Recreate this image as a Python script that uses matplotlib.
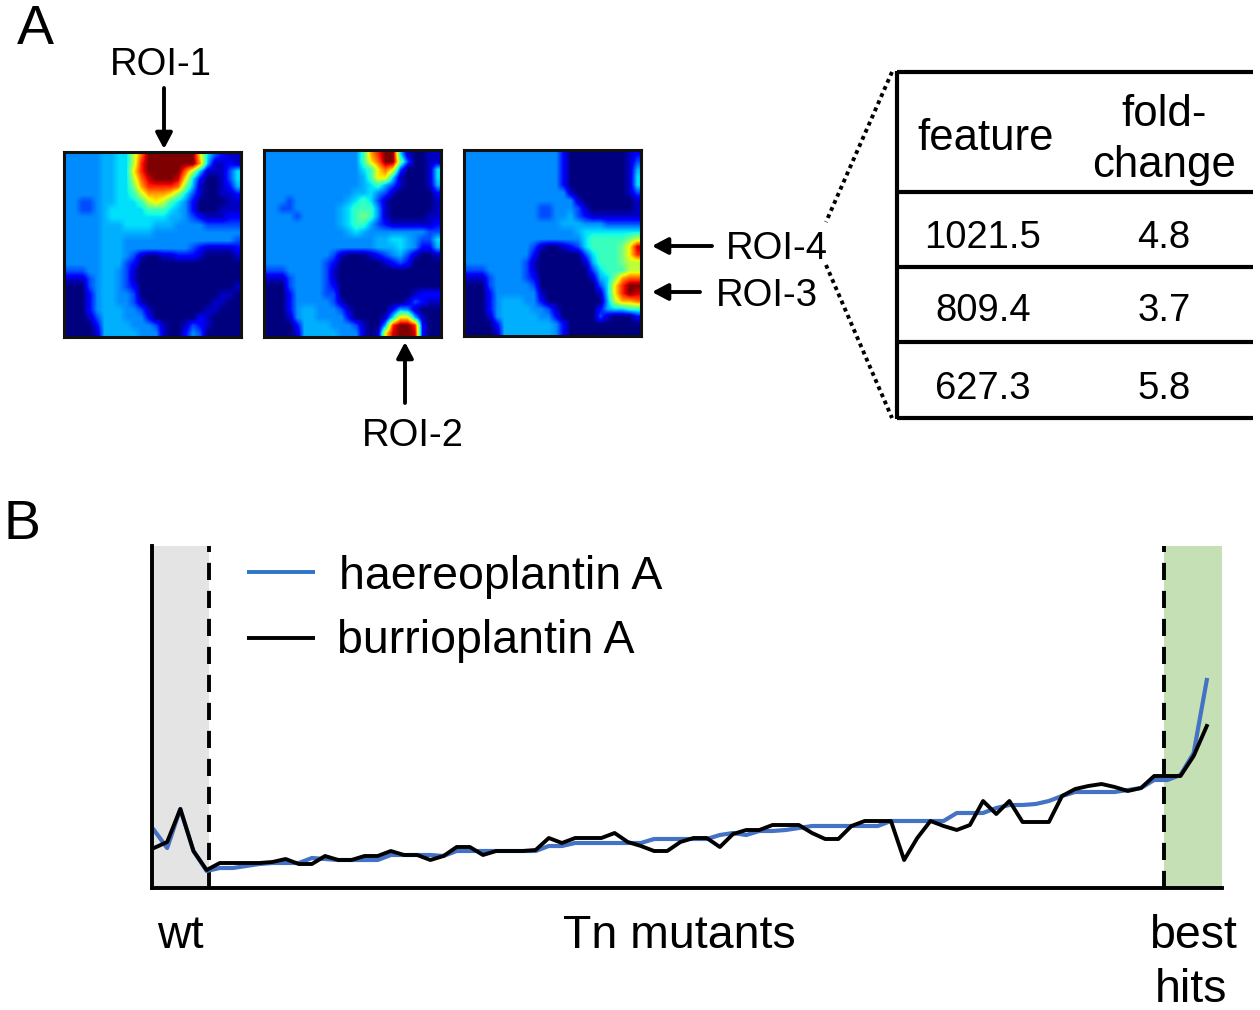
import matplotlib
matplotlib.use("Agg")
import matplotlib.pyplot as plt
import numpy as np

W, H = 1260, 1010

# heatmap levels, one hex digit per cell (0 = lowest, f = highest)
ROI_MAP_1 = [
	"4444455669cfffffffa63211",
	"4444455669dfffffffb51121",
	"444445566adfffffc9511136",
	"4444455669cefffea6200136",
	"4444455668bddddc85100125",
	"44444556679bbba863100112",
	"443345566679a97642000011",
	"443345666667776542000111",
	"444445666666665543211122",
	"444445556666555444433333",
	"444445555555444444444444",
	"444445554444444444444443",
	"444445554444444443211112",
	"444445554310011222100001",
	"444445553200000000000000",
	"333445543100000000000000",
	"111345543100000000000000",
	"000345543200000000000001",
	"000245544300000000000110",
	"000245544310000000001100",
	"000245554431000000011000",
	"000135554442000000210000",
	"000025555444310013210000",
	"000015555544410024300000",
]
ROI_MAP_2 = [
	"44444444444447bdff610011",
	"44444444444447acff830011",
	"444444444444467aca300016",
	"444444444444457aa6100016",
	"444444444444456753100015",
	"444444444444556431000002",
	"444344444445676310000001",
	"443344444456777410000001",
	"444434444456787410000011",
	"444444444456775321111112",
	"444444444445654444444433",
	"444444444444444556654336",
	"444444444444444555654225",
	"444444444310001234531001",
	"444444443200000012320000",
	"333444443100000000000000",
	"111344443100000000000000",
	"000344443200000000000000",
	"000244443300000000001222",
	"000244444310000000013211",
	"000245544431000002541000",
	"000145544442000016aa5100",
	"00002555544431005dffd200",
	"0000155555444101aeffe200",
]
ROI_MAP_3 = [
	"444444444444420000000012",
	"444444444444420000000013",
	"444444444444420000000015",
	"444444444444420000000016",
	"444444444444420000000016",
	"444444444444441000000013",
	"444444444444444100000001",
	"444444444433444310000001",
	"444444444433445321111111",
	"444444444444455544433333",
	"444444444444444566666666",
	"444444444444444467777789",
	"4444444443100123677778ae",
	"4444444442000000367778ad",
	"444444443100000015777899",
	"333444443100000003677799",
	"111344443200000001568bcc",
	"00034444430000000036adff",
	"00024444441000000016adfe",
	"000245554420000000059bbc",
	"000245555443100000256677",
	"000145555544200000310002",
	"000025555555420000000000",
	"000015555555420000000000",
]
# position on the jet scale of each hex digit
LEVELS = [0, .06, .125, .2, .265, .3, .345, .42, .5, .58, .66, .73, .8, .867, .93, 1]

# bottom panel, one point per mutant, sorted by haereoplantin A
HAEREOPLANTIN = [58, 40, 79, 37, 17, 20, 20, 22, 24, 25, 25, 25, 30, 29, 28, 28, 28, 28, 33, 33,
	33, 33, 32, 37, 37, 37, 37, 37, 37, 37, 42, 42, 45, 45, 45, 45, 45, 45, 49, 49,
	49, 49, 49, 53, 55, 53, 57, 57, 58, 60, 62, 62, 62, 62, 62, 62, 67, 67, 67, 67,
	67, 75, 75, 75, 80, 83, 83, 84, 87, 92, 96, 96, 96, 96, 98, 100, 108, 108, 113, 135, 208]
BURRIOPLANTIN = [40, 46, 79, 37, 18, 25, 25, 25, 25, 26, 29, 24, 24, 32, 28, 28, 32, 32, 37, 33,
	33, 28, 32, 41, 41, 33, 37, 37, 37, 38, 50, 45, 50, 50, 50, 55, 46, 42, 37, 37,
	46, 50, 50, 41, 54, 58, 58, 63, 63, 63, 55, 49, 49, 62, 67, 67, 67, 28, 50, 67,
	62, 58, 63, 87, 74, 87, 66, 66, 66, 92, 99, 102, 104, 101, 97, 100, 112, 112, 112, 132, 162]

TABLE_FEATURES = ["1021.5", "809.4", "627.3"]
TABLE_FOLDS = ["4.8", "3.7", "5.8"]


def px_axes(fig, x0, y0, x1, y1, **kw):
	return fig.add_axes([x0 / W, 1 - y1 / H, (x1 - x0) / W, (y1 - y0) / H], **kw)

def draw_map(fig, rows, box):
	ax = px_axes(fig, *box)
	grid = np.array([[LEVELS[int(c, 16)] for c in row] for row in rows])
	ax.imshow(grid, cmap="jet", vmin=0, vmax=1, aspect="auto", interpolation="bilinear")
	ax.set_xticks([])
	ax.set_yticks([])
	for s in ax.spines.values():
		s.set_linewidth(2.2)
		s.set_color("#111111")

def arrow(ov, start, end):
	ov.annotate("", xy=end, xytext=start,
		arrowprops=dict(arrowstyle="-|>,head_width=0.5,head_length=0.95", color="black", lw=2.8,
			shrinkA=0, shrinkB=0))

def rule(ov, xs, ys, color="black", lw=3):
	ov.plot(xs, ys, color=color, lw=lw, solid_capstyle="butt")


plt.rcParams["font.family"] = ["Liberation Sans", "DejaVu Sans"]
fig = plt.figure(figsize=(W / 100, H / 100), dpi=100)

draw_map(fig, ROI_MAP_1, (64, 152, 241, 337))
draw_map(fig, ROI_MAP_2, (264, 150, 441, 337))
draw_map(fig, ROI_MAP_3, (464, 150, 641, 336))

# line chart
ax = px_axes(fig, 152, 546, 1222, 888)
x = np.arange(len(BURRIOPLANTIN))
step = 13.16
ax.set_xlim(-2 / step, 1068 / step)
ax.set_ylim(0, 342)
ax.axvspan(-2 / step, 55 / step, color="#e4e4e4", lw=0)
ax.axvspan(1010 / step, 1068 / step, color="#c5e0b4", lw=0)
ax.axvline(55 / step, color="black", lw=2.8, dashes=(4.4, 2.8))
ax.axvline(1010 / step, color="black", lw=2.8, dashes=(4.4, 2.8))
ax.plot(x, HAEREOPLANTIN, color="#4472c4", lw=3)
ax.plot(x, BURRIOPLANTIN, color="black", lw=2.8)
ax.set_xticks([])
ax.set_yticks([])
ax.spines["top"].set_visible(False)
ax.spines["right"].set_visible(False)
ax.spines["left"].set_linewidth(2.8)
ax.spines["bottom"].set_linewidth(2.8)

# everything else is placed in pixel coordinates of the figure
ov = fig.add_axes([0, 0, 1, 1], facecolor="none")
ov.set_xlim(0, W)
ov.set_ylim(H, 0)
ov.axis("off")

ov.text(35, 30, "A", fontsize=40, ha="center", va="center")
ov.text(22, 525, "B", fontsize=40, ha="center", va="center")

ov.text(161, 65, "ROI-1", fontsize=27.5, ha="center", va="center")
ov.text(413, 436, "ROI-2", fontsize=27.5, ha="center", va="center")
ov.text(767, 296, "ROI-3", fontsize=27.5, ha="center", va="center")
ov.text(777, 249, "ROI-4", fontsize=27.5, ha="center", va="center")
arrow(ov, (164, 88), (164, 149))
arrow(ov, (405, 403), (405, 342))
arrow(ov, (712, 246), (652, 246))
arrow(ov, (700, 292), (652, 292))

# zoom lines and table
ov.plot([892, 826], [72, 222], color="black", lw=2.8, ls=(0, (1, 1)))
ov.plot([826, 892], [265, 418], color="black", lw=2.8, ls=(0, (1, 1)))
rule(ov, [897, 897], [71, 419])
for y in [72, 192, 267, 342, 418]:
	rule(ov, [897, 1253], [y, y])
ov.text(986, 139, "feature", fontsize=31.5, ha="center", va="center")
ov.text(1164, 115, "fold-", fontsize=31.5, ha="center", va="center")
ov.text(1164, 165, "change", fontsize=31.5, ha="center", va="center")
for feat, fold, y in zip(TABLE_FEATURES, TABLE_FOLDS, [238, 311, 389]):
	ov.text(983, y, feat, fontsize=27.5, ha="center", va="center")
	ov.text(1164, y, fold, fontsize=27.5, ha="center", va="center")

# legend
rule(ov, [247, 315], [572, 572], color="#2e75c8", lw=2.8)
rule(ov, [247, 315], [638, 638], lw=2.8)
ov.text(339, 577, "haereoplantin A", fontsize=33.5, ha="left", va="center")
ov.text(337, 641, "burrioplantin A", fontsize=33.5, ha="left", va="center")

ov.text(180, 936, "wt", fontsize=33.5, ha="center", va="center")
ov.text(679, 936, "Tn mutants", fontsize=33.5, ha="center", va="center")
ov.text(1193, 936, "best", fontsize=33.5, ha="center", va="center")
ov.text(1191, 990, "hits", fontsize=33.5, ha="center", va="center")

fig.savefig("out.png", dpi=100)
